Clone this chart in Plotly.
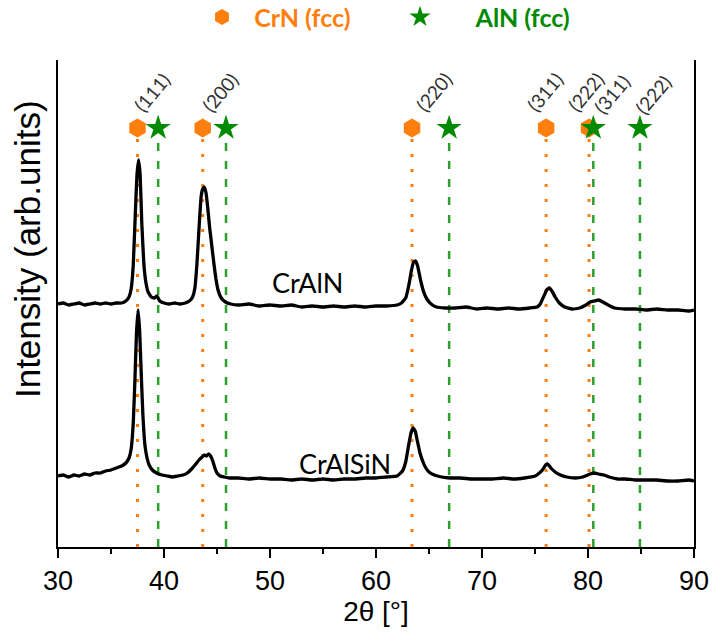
import plotly.graph_objects as go

# ---- diffraction patterns (stacked, arbitrary units) ----
two_theta_crain = [
    30.0, 30.5, 31.0, 31.5, 32.0, 32.5, 33.0, 33.5, 34.0, 34.5, 35.0, 35.5,
    36.0, 36.4, 36.7, 36.9, 37.1, 37.3, 37.45, 37.6, 37.75, 37.9, 38.1, 38.3,
    38.5, 38.8, 39.1, 39.35, 39.6, 40.0, 40.5, 41.0, 41.5, 42.0, 42.4, 42.7,
    42.9, 43.1, 43.3, 43.5, 43.65, 43.8, 43.95, 44.1, 44.3, 44.5, 44.7, 44.9,
    45.1, 45.4, 45.8, 46.3, 47.0, 48.0, 49.0, 50.0, 51.0, 52.0, 53.0, 54.0,
    55.0, 56.0, 57.0, 58.0, 59.0, 60.0, 61.0, 62.0, 62.4, 62.8, 63.1, 63.35,
    63.55, 63.75, 63.95, 64.2, 64.5, 64.8, 65.2, 65.7, 66.5, 67.5, 68.5, 69.5,
    70.5, 71.5, 72.5, 73.5, 74.5, 75.2, 75.5, 75.8, 76.1, 76.35, 76.6, 76.9,
    77.3, 77.8, 78.5, 79.2, 79.8, 80.2, 80.6, 81.0, 81.4, 81.9, 82.5, 83.5,
    84.5, 85.5, 86.5, 87.5, 88.5, 89.5, 90.0,
]
intensity_crain = [
    243, 244, 242, 243, 244, 242, 243, 244, 243, 244, 243, 244,
    244, 246, 250, 258, 282, 335, 372, 387, 372, 325, 283, 264,
    255, 250, 249, 251, 246, 244, 243, 244, 243, 244, 246, 250,
    258, 282, 318, 350, 358, 360, 355, 342, 320, 302, 284, 268,
    257, 249, 245, 243, 242, 243, 241, 242, 241, 242, 240, 241,
    240, 241, 240, 241, 240, 241, 241, 242, 244, 249, 262, 277,
    285, 286, 280, 267, 255, 248, 243, 240, 239, 239, 240, 238,
    239, 238, 239, 238, 239, 240, 243, 250, 257, 259, 256, 250,
    244, 240, 238, 239, 242, 245, 246, 247, 245, 242, 239, 238,
    238, 237, 238, 237, 237, 236, 237,
]

two_theta_craisin = [
    30.0, 30.5, 31.0, 31.5, 32.0, 32.5, 33.0, 33.5, 34.0, 34.5, 35.0, 35.5,
    36.0, 36.4, 36.7, 36.9, 37.1, 37.25, 37.4, 37.55, 37.7, 37.85, 38.0, 38.2,
    38.4, 38.6, 38.9, 39.3, 39.8, 40.3, 40.8, 41.3, 41.8, 42.2, 42.6, 43.0,
    43.3, 43.6, 43.8, 44.0, 44.2, 44.4, 44.6, 44.8, 45.0, 45.3, 45.7, 46.2,
    47.0, 48.0, 49.0, 50.0, 51.0, 52.0, 53.0, 54.0, 55.0, 56.0, 57.0, 58.0,
    59.0, 60.0, 61.0, 62.0, 62.5, 62.8, 63.05, 63.3, 63.5, 63.7, 63.9, 64.15,
    64.4, 64.7, 65.0, 65.5, 66.2, 67.0, 68.0, 69.0, 70.0, 71.0, 72.0, 73.0,
    74.0, 75.0, 75.3, 75.7, 76.0, 76.2, 76.5, 76.9, 77.4, 78.0, 78.8, 79.5,
    80.2, 80.6, 81.0, 81.5, 82.0, 82.8, 83.5, 84.5, 85.5, 86.5, 87.5, 88.5,
    89.5, 90.0,
]
intensity_craisin = [
    71, 72, 70, 72, 71, 73, 72, 74, 74, 76, 77, 79,
    81, 84, 89, 98, 124, 165, 213, 237, 217, 174, 134, 102,
    89, 82, 77, 74, 72, 71, 70, 71, 72, 74, 78, 83,
    87, 90, 92, 91, 93, 91, 86, 79, 74, 71, 70, 69,
    69, 68, 69, 68, 68, 67, 68, 67, 68, 67, 68, 68,
    69, 69, 70, 71, 76, 85, 100, 114, 119, 116, 106, 94,
    86, 79, 75, 72, 70, 69, 69, 68, 68, 68, 69, 68,
    69, 71, 73, 77, 82, 83, 79, 75, 72, 70, 69, 70,
    73, 74, 73, 72, 70, 68, 68, 67, 67, 67, 66, 66,
    67, 66,
]

# ---- reference reflections ----
crn_positions = [37.5, 43.65, 63.4, 76.05, 80.1]
crn_hkl = ["(111)", "(200)", "(220)", "(311)", "(222)"]
aln_positions = [39.45, 45.85, 66.9, 80.5, 84.9]
aln_hkl = ["", "", "", "(311)", "(222)"]

sample_names = ["CrAlN", "CrAlSiN"]
phase_names = ["CrN (fcc)", "AlN (fcc)"]

ORANGE = "#ff7f0e"
GREEN = "#008a00"
GREEN_LINE = "#2ca02c"
MARK_Y = 419      # level of the reference symbols
DROP_TOP = 409    # top of the drop lines
X_RANGE = [30, 90]
Y_RANGE = [0, 487]
NBSP = "\u00a0"

fig = go.Figure()

# drop lines for reference reflections
for p in crn_positions:
    fig.add_trace(go.Scatter(x=[p, p], y=[0, DROP_TOP], mode="lines",
                             line=dict(color=ORANGE, width=3, dash="3px,12px"),
                             showlegend=False, hoverinfo="skip"))
for p in aln_positions:
    fig.add_trace(go.Scatter(x=[p, p], y=[0, DROP_TOP], mode="lines",
                             line=dict(color=GREEN_LINE, width=2.5, dash="8px,10px"),
                             showlegend=False, hoverinfo="skip"))

# measured patterns
for tt, inten in [(two_theta_crain, intensity_crain), (two_theta_craisin, intensity_craisin)]:
    fig.add_trace(go.Scatter(x=tt, y=inten, mode="lines",
                             line=dict(color="black", width=3.3, shape="spline", smoothing=0.3),
                             showlegend=False))

# reference symbols (also used as legend entries)
fig.add_trace(go.Scatter(x=crn_positions, y=[MARK_Y] * len(crn_positions), mode="markers",
                         marker=dict(symbol="hexagon", size=19, color=ORANGE),
                         legend="legend",
                         name=f'<span style="color:{ORANGE}"><b>{NBSP * 2}{phase_names[0]}</b></span>'))
fig.add_trace(go.Scatter(x=aln_positions, y=[MARK_Y] * len(aln_positions), mode="markers",
                         marker=dict(symbol="star", size=19, color=GREEN),
                         legend="legend2",
                         name=f'<span style="color:{GREEN}"><b>{NBSP * 6}{phase_names[1]}</b></span>'))

# Miller index labels
label_font = dict(family="Lato, Open Sans, sans-serif", size=19, color="#333333")
crn_shift = [14, 17, 21, -2, -4]
aln_shift = [0, 0, 0, 18, 13]
for pos, lab, dx in zip(crn_positions, crn_hkl, crn_shift):
    if lab:
        fig.add_annotation(x=pos, y=MARK_Y, text=lab, showarrow=False, textangle=-50,
                           xshift=dx, yshift=36, font=label_font)
for pos, lab, dx in zip(aln_positions, aln_hkl, aln_shift):
    if lab:
        fig.add_annotation(x=pos, y=MARK_Y, text=lab, showarrow=False, textangle=-50,
                           xshift=dx, yshift=34, font=label_font)

# sample names
sample_font = dict(family="Lato, Open Sans, sans-serif", size=27, color="black")
fig.add_annotation(x=53.5, y=265, text=sample_names[0], showarrow=False, font=sample_font)
fig.add_annotation(x=57.1, y=84, text=sample_names[1], showarrow=False, font=sample_font)

# y-axis title
fig.add_annotation(xref="paper", yref="paper", x=-0.047, y=0.612, xanchor="center", yanchor="middle",
                   text="Intensity (arb.units)", textangle=-90, showarrow=False,
                   font=dict(family="Liberation Sans, Arial, sans-serif", size=35, color="black"))

legend_common = dict(orientation="h", xref="container", yref="container",
                     y=0.973, xanchor="left", yanchor="middle",
                     font=dict(family="Lato, Open Sans, sans-serif", size=25),
                     bgcolor="rgba(0,0,0,0)")

fig.update_layout(
    width=713, height=636,
    margin=dict(l=58, r=19, t=60, b=89, autoexpand=False),
    paper_bgcolor="white", plot_bgcolor="white",
    showlegend=True,
    legend=dict(x=202 / 713, **legend_common),
    legend2=dict(x=400 / 713, **legend_common),
    xaxis=dict(
        range=X_RANGE, showgrid=False, zeroline=False,
        showline=True, linecolor="black", linewidth=2, mirror=False,
        ticks="outside", ticklen=9, tickwidth=2, tickcolor="black",
        tick0=30, dtick=10,
        minor=dict(ticks="outside", ticklen=5, tickwidth=2, tickcolor="black", dtick=5, showgrid=False),
        tickfont=dict(family="Liberation Sans, Arial, sans-serif", size=27, color="black"),
        title=dict(text="2θ [°]", standoff=6,
                   font=dict(family="Liberation Sans, Arial, sans-serif", size=28, color="black")),
    ),
    yaxis=dict(
        range=Y_RANGE, showgrid=False, zeroline=False,
        showline=True, linecolor="black", linewidth=2, mirror=True,
        ticks="", showticklabels=False,
    ),
)

fig.write_html("out.html")
